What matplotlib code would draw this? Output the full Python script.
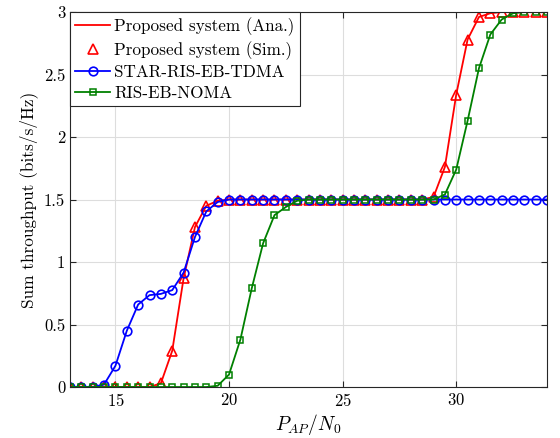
"""Sum throughput versus P_AP/N0 for the proposed system and baselines."""
import matplotlib.pyplot as plt
import numpy as np

# x axis: P_AP/N0 grid, step 0.5 from 13 to 34
snr = np.arange(13, 34.01, 0.5)

proposed_ana = [
    0, 0, 0, 0, 0, 0, 0, 0, 0.03, 0.29, 0.87, 1.28, 1.45, 1.49,
    1.5, 1.5, 1.5, 1.5, 1.5, 1.5, 1.5, 1.5, 1.5, 1.5, 1.5, 1.5, 1.5, 1.5,
    1.5, 1.5, 1.5, 1.5, 1.52, 1.76, 2.34, 2.78, 2.96, 2.99, 3.0, 3.0, 3.0,
    3.0, 3.0,
]
proposed_sim = proposed_ana
star_ris_tdma = [
    0, 0, 0, 0.02, 0.17, 0.45, 0.66, 0.735, 0.745, 0.775, 0.915, 1.2,
    1.405, 1.48, 1.5, 1.5, 1.5, 1.5, 1.5, 1.5, 1.5, 1.5, 1.5, 1.5, 1.5,
    1.5, 1.5, 1.5, 1.5, 1.5, 1.5, 1.5, 1.5, 1.5, 1.5, 1.5, 1.5, 1.5, 1.5,
    1.5, 1.5, 1.5, 1.5,
]
ris_noma = [
    0, 0, 0, 0, 0, 0, 0, 0, 0, 0, 0, 0, 0, 0.01, 0.1, 0.38, 0.79, 1.15,
    1.375, 1.44, 1.49, 1.5, 1.5, 1.5, 1.5, 1.5, 1.5, 1.5, 1.5, 1.5, 1.5,
    1.5, 1.5, 1.54, 1.74, 2.13, 2.55, 2.82, 2.94, 2.99, 3.0, 3.0, 3.0,
]


def main():
    plt.rcParams["font.family"] = ["cmr10", "DejaVu Serif"]
    plt.rcParams["mathtext.fontset"] = "cm"
    plt.rcParams["axes.formatter.use_mathtext"] = True

    fig = plt.figure(figsize=(5.6, 4.38), dpi=100)
    ax = fig.add_axes([0.125, 0.1164, 0.852, 0.8562])

    ax.plot(snr, proposed_ana, color="red", lw=1.3,
            label="Proposed system (Ana.)")
    ax.plot(snr, proposed_sim, ls="none", marker="^", ms=6.8, mfc="none",
            mec="red", mew=1.2, label="Proposed system (Sim.)")
    ax.plot(snr, star_ris_tdma, color="blue", lw=1.3, marker="o", ms=6.2,
            mfc="none", mew=1.2, label="STAR-RIS-EB-TDMA")
    ax.plot(snr, ris_noma, color="green", lw=1.3, marker="s", ms=4.2,
            mfc="none", mew=1.1, label="RIS-EB-NOMA")

    ax.set_xlim(13, 34)
    ax.set_ylim(0, 3)
    ax.set_xticks([15, 20, 25, 30])
    ax.set_yticks([0, 0.5, 1, 1.5, 2, 2.5, 3])
    ax.set_yticklabels(["0", "0.5", "1", "1.5", "2", "2.5", "3"])
    ax.tick_params(direction="in", top=True, right=True, labelsize=12,
                   length=4, color="#262626")
    ax.grid(True, color="#dddddd", lw=0.8)
    ax.set_axisbelow(True)
    for s in ax.spines.values():
        s.set_color("#262626")
        s.set_linewidth(0.8)

    ax.set_xlabel(r"$P_{AP}/N_0$", fontsize=14, labelpad=2)
    ax.set_ylabel("Sum throughput (bits/s/Hz)", fontsize=12.4)

    leg = ax.legend(loc="upper left", borderaxespad=0, fancybox=False,
                    fontsize=12.3, handlelength=2.05, labelspacing=0.3,
                    borderpad=0.3, handletextpad=0.25, framealpha=1)
    leg.get_frame().set_edgecolor("#262626")
    leg.get_frame().set_linewidth(0.8)

    fig.savefig("out.png", dpi=100)


if __name__ == "__main__":
    main()
